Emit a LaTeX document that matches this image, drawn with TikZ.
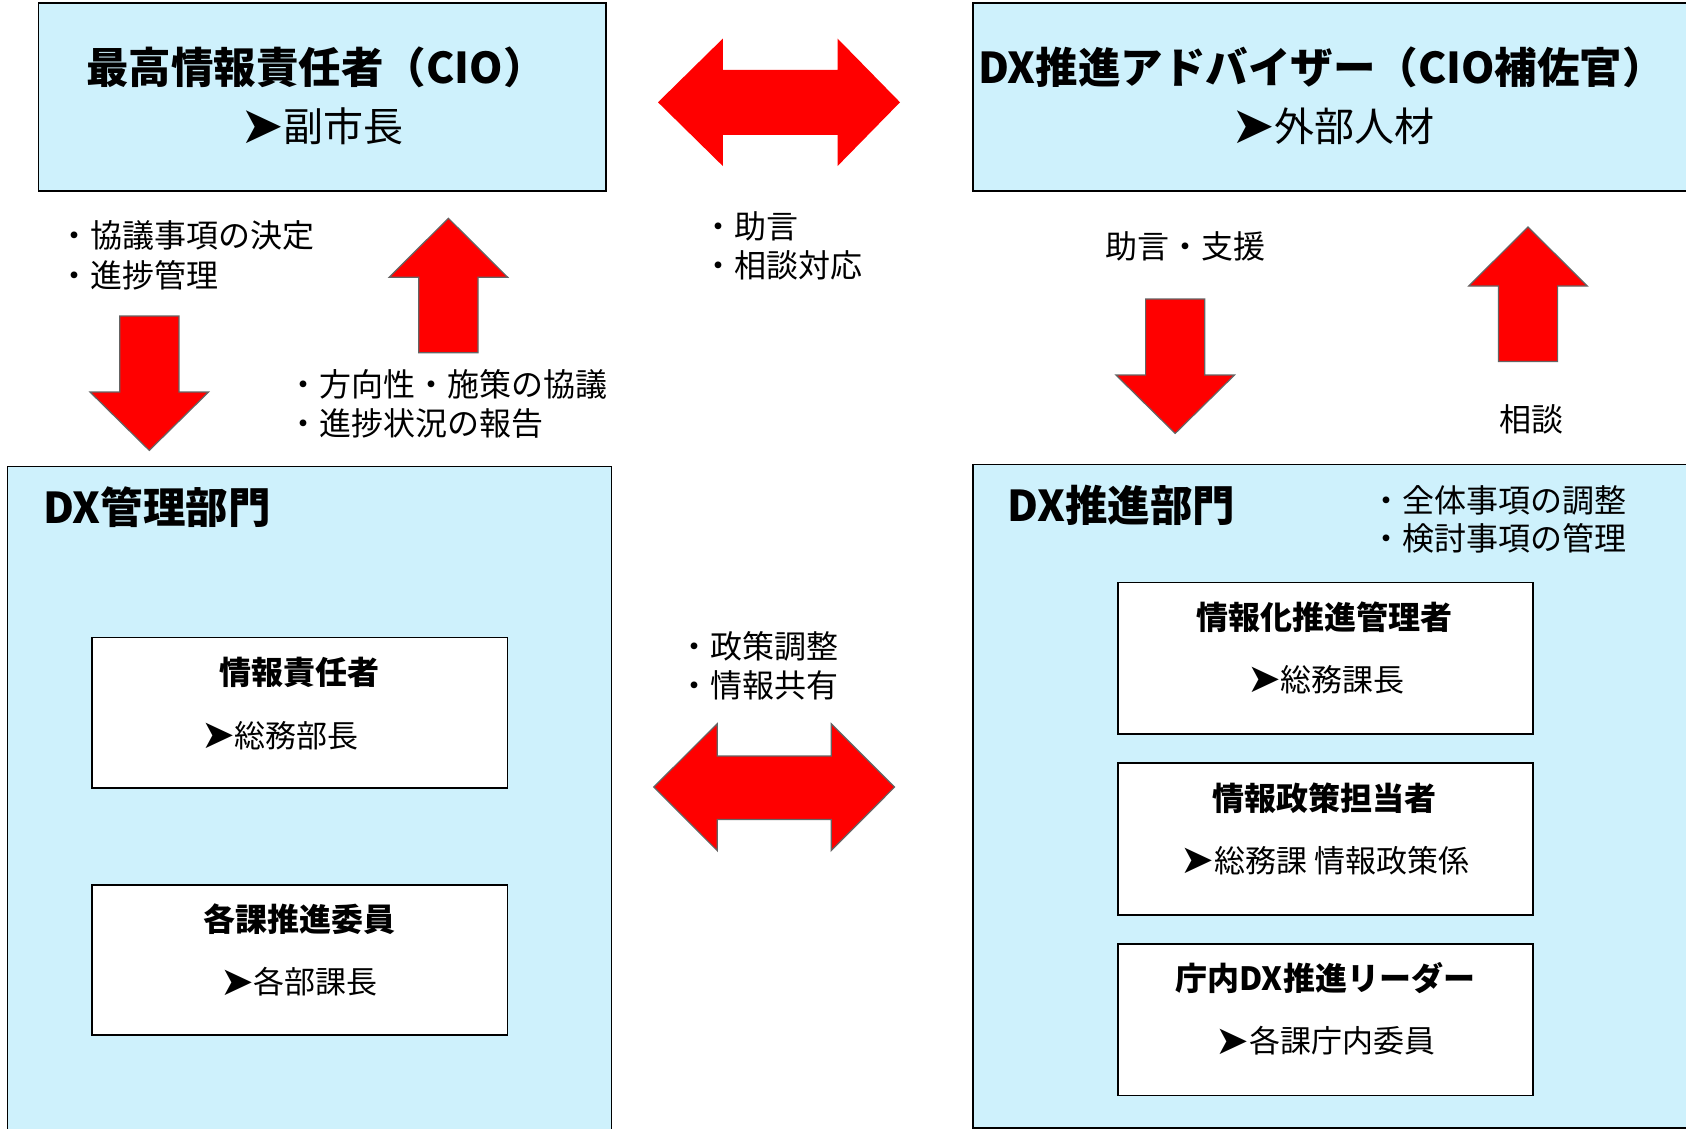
\documentclass[tikz,border=0pt]{standalone}
\usepackage{fontspec}
\setmainfont{Noto Sans CJK JP}
\newfontfamily\symfont{DejaVu Sans}
\definecolor{boxblue}{RGB}{206,241,252}
\definecolor{arrred}{RGB}{255,0,0}
\definecolor{arrgray}{RGB}{100,100,100}
\newcommand\ptr{{\symfont\raisebox{-0.05em}{\scalebox{1.3}{➤}}}}
\begin{document}
\begin{tikzpicture}[x=1pt,y=-1pt,
  outer/.style={draw=black, line width=1.6pt, fill=boxblue, inner sep=0pt, anchor=north west},
  inner/.style={draw=black, line width=1.6pt, fill=white, inner sep=0pt, anchor=north west},
  bigtitle/.style={font=\fontsize{42.5}{50}\selectfont\bfseries, inner sep=0pt},
  subtitle/.style={font=\fontsize{40}{48}\selectfont, inner sep=0pt},
  lbl/.style={font=\fontsize{32}{38}\selectfont, inner sep=0pt, anchor=west},
  ititle/.style={font=\fontsize{32}{38}\selectfont\bfseries, inner sep=0pt},
  isub/.style={font=\fontsize{31}{36}\selectfont, inner sep=0pt},
  redarrow/.style={fill=arrred, draw=arrgray, line width=1.2pt, line join=miter},
  redflat/.style={fill=arrred},
  downarr/.pic={\path[redarrow] (-29.6,0) -- (29.6,0) -- (29.6,76) -- (59.3,76) -- (0,134.4) -- (-59.3,76) -- (-29.6,76) -- cycle;},
  uparr/.pic={\path[redarrow] (0,0) -- (59.3,59) -- (29.6,59) -- (29.6,134.4) -- (-29.6,134.4) -- (-29.6,59) -- (-59.3,59) -- cycle;},
]
\useasboundingbox (0,0) rectangle (1686,1129);
\fill[white] (0,0) rectangle (1686,1129);
\clip (0,0) rectangle (1686,1129);

% ---------- top boxes ----------
\node[outer, minimum width=567.8pt, minimum height=188.1pt] (cio) at (37.6,2.2) {};
\node[bigtitle] (ciot) at (316,67) {最高情報責任者（CIO）};
\node[subtitle] (cios) at (322,126) {\ptr 副市長};

\node[outer, minimum width=740pt, minimum height=188.1pt] (adv) at (972,2.2) {};
\node[bigtitle] (advt) at (1321.5,67) {DX推進アドバイザー（CIO補佐官）};
\node[subtitle] (advs) at (1333,126) {\ptr 外部人材};

% ---------- top double arrow ----------
\path[redflat] (658,102.3) -- (722.8,38.6) -- (722.8,70) -- (837.6,70) -- (837.6,38.6)
  -- (900,102.3) -- (837.6,166) -- (837.6,135) -- (722.8,135) -- (722.8,166) -- cycle;
\node[lbl] (adv1) at (702,226) {・助言};
\node[lbl] (adv2) at (702,265) {・相談対応};

% ---------- left vertical arrows ----------
\node[lbl] (l1) at (58,235.5) {・協議事項の決定};
\node[lbl] (l2) at (58,275) {・進捗管理};
\pic at (149.3,316) {downarr};
\pic at (448.4,218.3) {uparr};
\node[lbl] (l3) at (287,384) {・方向性・施策の協議};
\node[lbl] (l4) at (287,423.7) {・進捗状況の報告};

% ---------- right vertical arrows ----------
\node[lbl] (r1) at (1105,246) {助言・支援};
\pic at (1175.2,299) {downarr};
\pic at (1528,227) {uparr};
\node[lbl, anchor=center] (r2) at (1531,419) {相談};

% ---------- left big box ----------
\node[outer, minimum width=604.3pt, minimum height=700pt] (mgmt) at (6.5,465.6) {};
\node[bigtitle, anchor=west] (mgmtt) at (43,507.5) {DX管理部門};
\node[inner, minimum width=415.1pt, minimum height=150.4pt] (m1) at (91.4,636.6) {};
\node[ititle] (m1t) at (299,672) {情報責任者};
\node[isub] (m1s) at (280,735.5) {\ptr 総務部長};
\node[inner, minimum width=415.1pt, minimum height=150.4pt] (m2) at (91.4,884) {};
\node[ititle] (m2t) at (299,919.4) {各課推進委員};
\node[isub] (m2s) at (299,981.7) {\ptr 各部課長};

% ---------- middle lower ----------
\node[lbl] (c1) at (678,646) {・政策調整};
\node[lbl] (c2) at (678,685) {・情報共有};
\path[redarrow] (653.8,787) -- (717.2,723.7) -- (717.2,756) -- (831.2,756) -- (831.2,723.7)
  -- (894.6,787) -- (831.2,850.6) -- (831.2,819.4) -- (717.2,819.4) -- (717.2,850.6) -- cycle;

% ---------- right big box ----------
\node[outer, minimum width=740pt, minimum height=663.5pt] (prom) at (972,463.5) {};
\node[bigtitle, anchor=west] (promt) at (1007.5,505) {DX推進部門};
\node[lbl] (p1) at (1370,500) {・全体事項の調整};
\node[lbl] (p2) at (1370,538.7) {・検討事項の管理};

\node[inner, minimum width=415pt, minimum height=151.7pt] (ra) at (1117.3,581.7) {};
\node[ititle] (rat) at (1324.8,617.2) {情報化推進管理者};
\node[isub] (ras) at (1326,679.6) {\ptr 総務課長};
\node[inner, minimum width=415pt, minimum height=151.6pt] (rb) at (1117.3,762.4) {};
\node[ititle] (rbt) at (1324.8,797.9) {情報政策担当者};
\node[isub] (rbs) at (1325,860.2) {\ptr 総務課 情報政策係};
\node[inner, minimum width=415pt, minimum height=151.7pt] (rc) at (1117.3,943) {};
\node[ititle] (rct) at (1325.3,978.5) {庁内DX推進リーダー};
\node[isub] (rcs) at (1325.3,1041) {\ptr 各課庁内委員};
\end{tikzpicture}
\end{document}
